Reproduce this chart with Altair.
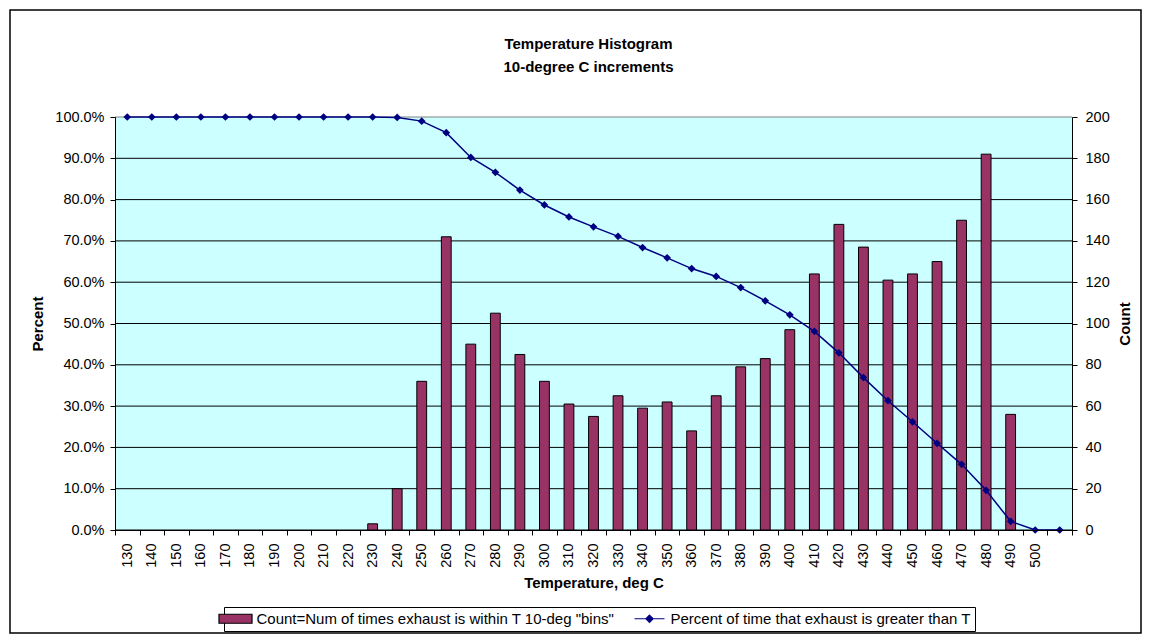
import altair as alt
import pandas as pd

# ---- data ----
temps = ["130", "140", "150", "160", "170", "180", "190", "200", "210", "220",
         "230", "240", "250", "260", "270", "280", "290", "300", "310", "320",
         "330", "340", "350", "360", "370", "380", "390", "400", "410", "420",
         "430", "440", "450", "460", "470", "480", "490", "500", ""]

counts = [0, 0, 0, 0, 0, 0, 0, 0, 0, 0,
          3, 20, 72, 142, 90, 105, 85, 72, 61, 55,
          65, 59, 62, 48, 65, 79, 83, 97, 124, 148,
          137, 121, 124, 130, 150, 182, 56, 0, 0]

percents = [100, 100, 100, 100, 100, 100, 100, 100, 100, 100,
            100, 99.9, 99.0, 96.2, 90.2, 86.6, 82.3, 78.7, 75.8, 73.4,
            71.1, 68.4, 65.9, 63.3, 61.4, 58.7, 55.5, 52.1, 48.1, 42.9,
            36.9, 31.3, 26.2, 21.0, 15.9, 9.6, 2.1, 0, 0]

legend_names = ['Count=Num of times exhaust is within T 10-deg "bins"',
                'Percent of time that exhaust is greater than T']

pct_ticks = [0, 10, 20, 30, 40, 50, 60, 70, 80, 90, 100]
count_ticks = [0, 20, 40, 60, 80, 100, 120, 140, 160, 180, 200]

df = pd.DataFrame({"temp": temps, "count": counts, "pct": percents})
leg_df = pd.DataFrame({"name": legend_names})
grid_df = pd.DataFrame({"v": pct_ticks})

FONT = "Liberation Sans"
W, H = 957, 413
BAR = "#993366"
NAVY = "#000080"
PLOT_BG = "#CCFFFF"

x_enc = alt.X(
    "temp:O",
    sort=temps,
    scale=alt.Scale(paddingInner=0, paddingOuter=0),
    axis=alt.Axis(
        title="Temperature, deg C",
        labelAngle=270,
        tickBand="extent",
        tickSize=5,
        labelPadding=8,
        titlePadding=8,
        grid=False,
        zindex=1,
    ),
)

# plot-area background
bg = alt.Chart(alt.Data(values=[{}])).mark_rect(fill=PLOT_BG).encode(
    x=alt.value(0), x2=alt.value(W), y=alt.value(0), y2=alt.value(H)
)

# horizontal gridlines at the percent ticks
grid = alt.Chart(grid_df).mark_rule(strokeWidth=1).encode(
    y=alt.Y("v:Q", scale=alt.Scale(domain=[0, 100], nice=False), axis=None),
    color=alt.condition("datum.v == 100", alt.value("#808080"), alt.value("black")),
)

bars = (
    alt.Chart(df)
    .transform_filter("datum.count > 0")
    .mark_bar(width=alt.RelativeBandSize(0.4), color=BAR, stroke="black", strokeWidth=1)
    .encode(
        x=x_enc,
        y=alt.Y(
            "count:Q",
            scale=alt.Scale(domain=[0, 200], nice=False),
            axis=alt.Axis(
                orient="right",
                title="Count",
                values=count_ticks,
                grid=False,
                tickSize=5,
                labelPadding=8,
                titlePadding=8,
                titleAngle=270,
                titleBaseline="top",
                zindex=1,
            ),
        ),
    )
)

pct_y = alt.Y(
    "pct:Q",
    scale=alt.Scale(domain=[0, 100], nice=False),
    axis=alt.Axis(
        orient="left",
        title="Percent",
        values=pct_ticks,
        labelExpr="format(datum.value, '.1f') + '%'",
        grid=False,
        tickSize=5,
        labelPadding=6,
        titlePadding=9,
        zindex=1,
    ),
)

line = alt.Chart(df).mark_line(color=NAVY, strokeWidth=1.5).encode(x=x_enc, y=pct_y)
points = alt.Chart(df).mark_point(
    shape="diamond", filled=True, color=NAVY, size=60, opacity=1
).encode(x=x_enc, y=alt.Y("pct:Q"))

rect_path = "M-3.67,-1H3.67V1H-3.67Z"
line_path = "M-3.33,0H3.33M0,-0.8L0.8,0L0,0.8L-0.8,0Z"

leg = alt.Legend(
    title=None,
    orient="none",
    legendX=109,
    legendY=490,
    direction="horizontal",
    labelFont=FONT,
    labelFontSize=15,
    labelColor="black",
    labelLimit=800,
    labelOffset=13.5,
    columnPadding=17,
    symbolSize=81,
    symbolStrokeWidth=1.2,
    symbolOpacity=1,
    padding=4,
    strokeColor="black",
    fillColor="white",
)

dummy = alt.Chart(leg_df).mark_point(filled=True, opacity=0).encode(
    color=alt.Color("name:N", scale=alt.Scale(domain=legend_names, range=[BAR, NAVY]), legend=leg),
    stroke=alt.Stroke("name:N", scale=alt.Scale(domain=legend_names, range=["black", NAVY]), legend=leg),
    shape=alt.Shape("name:N", scale=alt.Scale(domain=legend_names, range=[rect_path, line_path]), legend=leg),
)

frame = alt.Chart(alt.Data(values=[{}])).mark_rect(
    filled=False, stroke="black", strokeWidth=1.5
).encode(
    x=alt.value(-105), x2=alt.value(W + 69), y=alt.value(-107), y2=alt.value(H + 103)
)

chart = (
    alt.layer(bg, grid, bars, alt.layer(line, points), dummy, frame)
    .resolve_scale(y="independent")
    .properties(
        width=W,
        height=H,
        background="white",
        autosize=alt.AutoSizeParams(type="none"),
        padding={"left": 107, "top": 109, "right": 71, "bottom": 105},
        title=alt.Title(
            ["Temperature Histogram", "10-degree C increments"],
            font=FONT,
            fontSize=15,
            fontWeight="bold",
            lineHeight=23,
            color="black",
            anchor="middle",
            frame="group",
            offset=-66,
            dx=-5,
        ),
    )
    .configure_view(fill=PLOT_BG, strokeWidth=0)
    .configure_axis(
        labelFont=FONT,
        titleFont=FONT,
        labelFontSize=14.5,
        titleFontSize=15,
        titleFontWeight="bold",
        labelColor="black",
        titleColor="black",
        domainColor="black",
        tickColor="black",
        domainWidth=1,
    )
)

chart.save("out.html", embed_options={"renderer": "svg", "actions": False})
